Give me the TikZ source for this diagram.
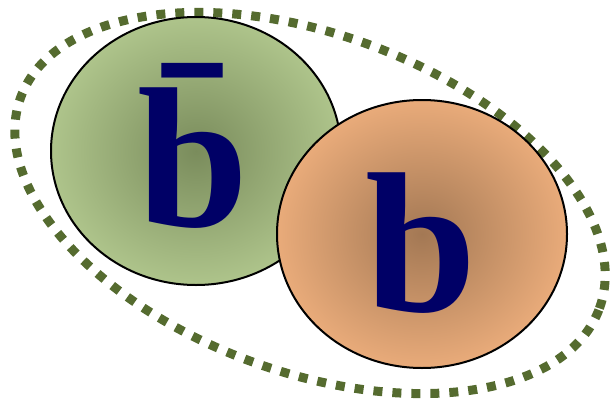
\documentclass[tikz,border=0pt]{standalone}
\usepackage{fontspec}
\setmainfont{Liberation Serif}
\usetikzlibrary{shapes.geometric}
\definecolor{ringgreen}{RGB}{85,107,47}
\definecolor{greenout}{RGB}{174,196,139}
\definecolor{greenin}{RGB}{122,140,92}
\definecolor{orangeout}{RGB}{233,171,122}
\definecolor{orangein}{RGB}{163,120,84}
\definecolor{letter}{RGB}{0,0,102}
\tikzset{
  ball/.style={ellipse, draw=black, line width=2pt, minimum width=290pt, minimum height=268pt, inner sep=0pt},
  quark/.style={text=letter, font=\fontsize{200}{200}\selectfont\bfseries, anchor=base, inner sep=0pt},
  dotring/.style={draw=ringgreen, line width=9pt, dash pattern=on 9pt off 10pt}
}
\begin{document}
\begin{tikzpicture}[x=1pt,y=1pt]
\useasboundingbox (0,0) rectangle (615,408);
\begin{scope}[shift={(310,205)}, rotate=-20]
  \draw[dotring] (0,0) ellipse (308 and 169);
\end{scope}
\node[ball, shade, inner color=greenin, outer color=greenout] (g) at (196,257) {};
\node[ball, shade, inner color=orangein, outer color=orangeout] (o) at (422,174) {};
\node[quark] (bbar) at (193.5,182) {\=b};
\node[quark] (b) at (421.5,97) {b};
\end{tikzpicture}
\end{document}
